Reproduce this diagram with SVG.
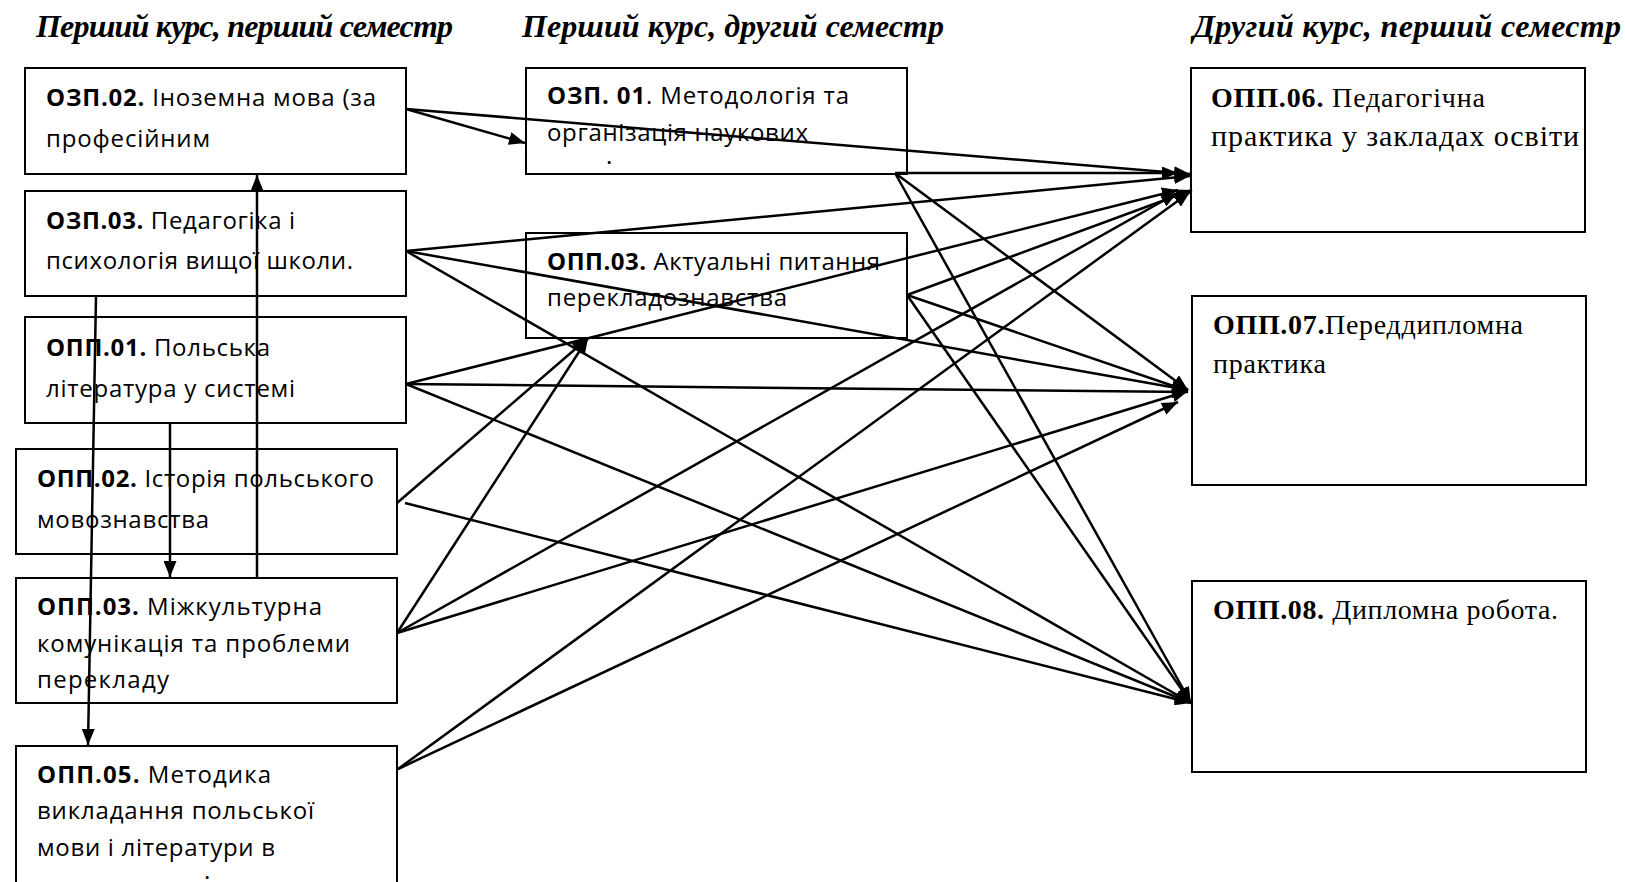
<svg xmlns="http://www.w3.org/2000/svg" width="1625" height="882" viewBox="0 0 1625 882">
<defs>
<marker id="ah" markerUnits="userSpaceOnUse" markerWidth="16" markerHeight="13" refX="16" refY="6.5" orient="auto"><path d="M0,0 L16,6.5 L0,13 z" fill="#000"/></marker>
<style>
.box{fill:#fff;stroke:#000;stroke-width:2}
.t{font-family:"Open Sans","Noto Sans",sans-serif;font-size:24px;fill:#000}
.b{font-weight:700}
.s{font-family:"Liberation Serif","Times New Roman",serif;font-size:28px;fill:#000}
.h{font-family:"Liberation Serif","Times New Roman",serif;font-size:32px;font-weight:700;font-style:italic;fill:#000}
.c{stroke:#000;stroke-width:2.5;fill:none}
</style>
</defs>
<rect width="1625" height="882" fill="#fff"/>
<g id="titles">
<text class="h" x="36" y="37" textLength="417">Перший курс, перший семестр</text>
<text class="h" x="522" y="37" textLength="422">Перший курс, другий семестр</text>
<text class="h" x="1193" y="37" textLength="428">Другий курс, перший семестр</text>
</g>
<g id="ozp02"><rect class="box" x="25" y="68" width="381" height="106"/>
<text class="t" x="46" y="106" textLength="330"><tspan class="b">ОЗП.02.</tspan> Іноземна мова (за</text>
<text class="t" x="46" y="147" textLength="164">професійним</text></g>
<g id="ozp03"><rect class="box" x="25" y="191" width="381" height="105"/>
<text class="t" x="46" y="229" textLength="249"><tspan class="b">ОЗП.03.</tspan> Педагогіка і</text>
<text class="t" x="46" y="269" textLength="307">психологія вищої школи.</text></g>
<g id="opp01"><rect class="box" x="25" y="317" width="381" height="106"/>
<text class="t" x="46" y="356" textLength="224"><tspan class="b">ОПП.01.</tspan> Польська</text>
<text class="t" x="46" y="397" textLength="249">література у системі</text></g>
<g id="opp02"><rect class="box" x="16" y="449" width="381" height="105"/>
<text class="t" x="37" y="487" textLength="337"><tspan class="b">ОПП.02.</tspan> Історія польського</text>
<text class="t" x="37" y="528" textLength="172">мовознавства</text></g>
<g id="opp03a"><rect class="box" x="16" y="578" width="381" height="125"/>
<text class="t" x="37" y="615" textLength="285"><tspan class="b">ОПП.03.</tspan> Міжкультурна</text>
<text class="t" x="37" y="652" textLength="313">комунікація та проблеми</text>
<text class="t" x="37" y="688" textLength="132">перекладу</text></g>
<g id="opp05"><rect class="box" x="16" y="746" width="381" height="150"/>
<text class="t" x="37" y="783" textLength="234"><tspan class="b">ОПП.05.</tspan> Методика</text>
<text class="t" x="37" y="819" textLength="277">викладання польської</text>
<text class="t" x="37" y="856" textLength="238">мови і літератури в</text>
<text class="t" x="204" y="879">.</text></g>
<g id="ozp01"><rect class="box" x="526" y="68" width="381" height="106"/>
<text class="t" x="547" y="104" textLength="302"><tspan class="b">ОЗП. 01</tspan>. Методологія та</text>
<text class="t" x="547" y="141" textLength="261">організація наукових</text>
<text class="t" x="606" y="164">.</text></g>
<g id="opp03b"><rect class="box" x="526" y="233" width="381" height="105"/>
<text class="t" x="547" y="270" textLength="333"><tspan class="b">ОПП.03.</tspan> Актуальні питання</text>
<text class="t" x="547" y="306" textLength="240">перекладознавства</text></g>
<g id="opp06"><rect class="box" x="1191" y="68" width="394" height="164"/>
<text class="s" x="1211" y="107" textLength="274"><tspan class="b">ОПП.06.</tspan> Педагогічна</text>
<text class="s" x="1211" y="146" textLength="368" style="font-size:30px">практика у закладах освіти</text></g>
<g id="opp07"><rect class="box" x="1192" y="296" width="394" height="189"/>
<text class="s" x="1213" y="334" textLength="310"><tspan class="b">ОПП.07.</tspan>Переддипломна</text>
<text class="s" x="1213" y="373" textLength="113">практика</text></g>
<g id="opp08"><rect class="box" x="1192" y="581" width="394" height="191"/>
<text class="s" x="1213" y="619" textLength="345"><tspan class="b">ОПП.08.</tspan> Дипломна робота.</text></g>
<g id="connectors" class="c" marker-end="url(#ah)">
<line x1="257" y1="578" x2="257" y2="175"/>
<line x1="170" y1="423" x2="170" y2="577"/>
<line x1="96" y1="296" x2="88" y2="745"/>
<line x1="406" y1="109" x2="525" y2="143"/>
<line x1="406" y1="109" x2="1190" y2="174"/>
<line x1="406" y1="251" x2="1190" y2="176"/>
<line x1="406" y1="251" x2="1188" y2="390"/>
<line x1="406" y1="251" x2="1191" y2="703"/>
<line x1="406" y1="384" x2="1178" y2="190"/>
<line x1="406" y1="384" x2="1188" y2="392"/>
<line x1="406" y1="384" x2="1191" y2="703"/>
<line x1="397" y1="503" x2="588" y2="338"/>
<line x1="405" y1="503" x2="1191" y2="703"/>
<line x1="397" y1="633" x2="588" y2="338"/>
<line x1="397" y1="633" x2="1177" y2="193"/>
<line x1="397" y1="633" x2="1188" y2="391"/>
<line x1="398" y1="769" x2="1190" y2="192"/>
<line x1="398" y1="769" x2="1178" y2="402"/>
<line x1="895" y1="173" x2="1178" y2="173"/>
<line x1="895" y1="173" x2="1188" y2="390"/>
<line x1="895" y1="173" x2="1191" y2="703"/>
<line x1="907" y1="295" x2="1192" y2="190"/>
<line x1="907" y1="295" x2="1188" y2="391"/>
<line x1="907" y1="295" x2="1191" y2="703"/>
</g>
</svg>
